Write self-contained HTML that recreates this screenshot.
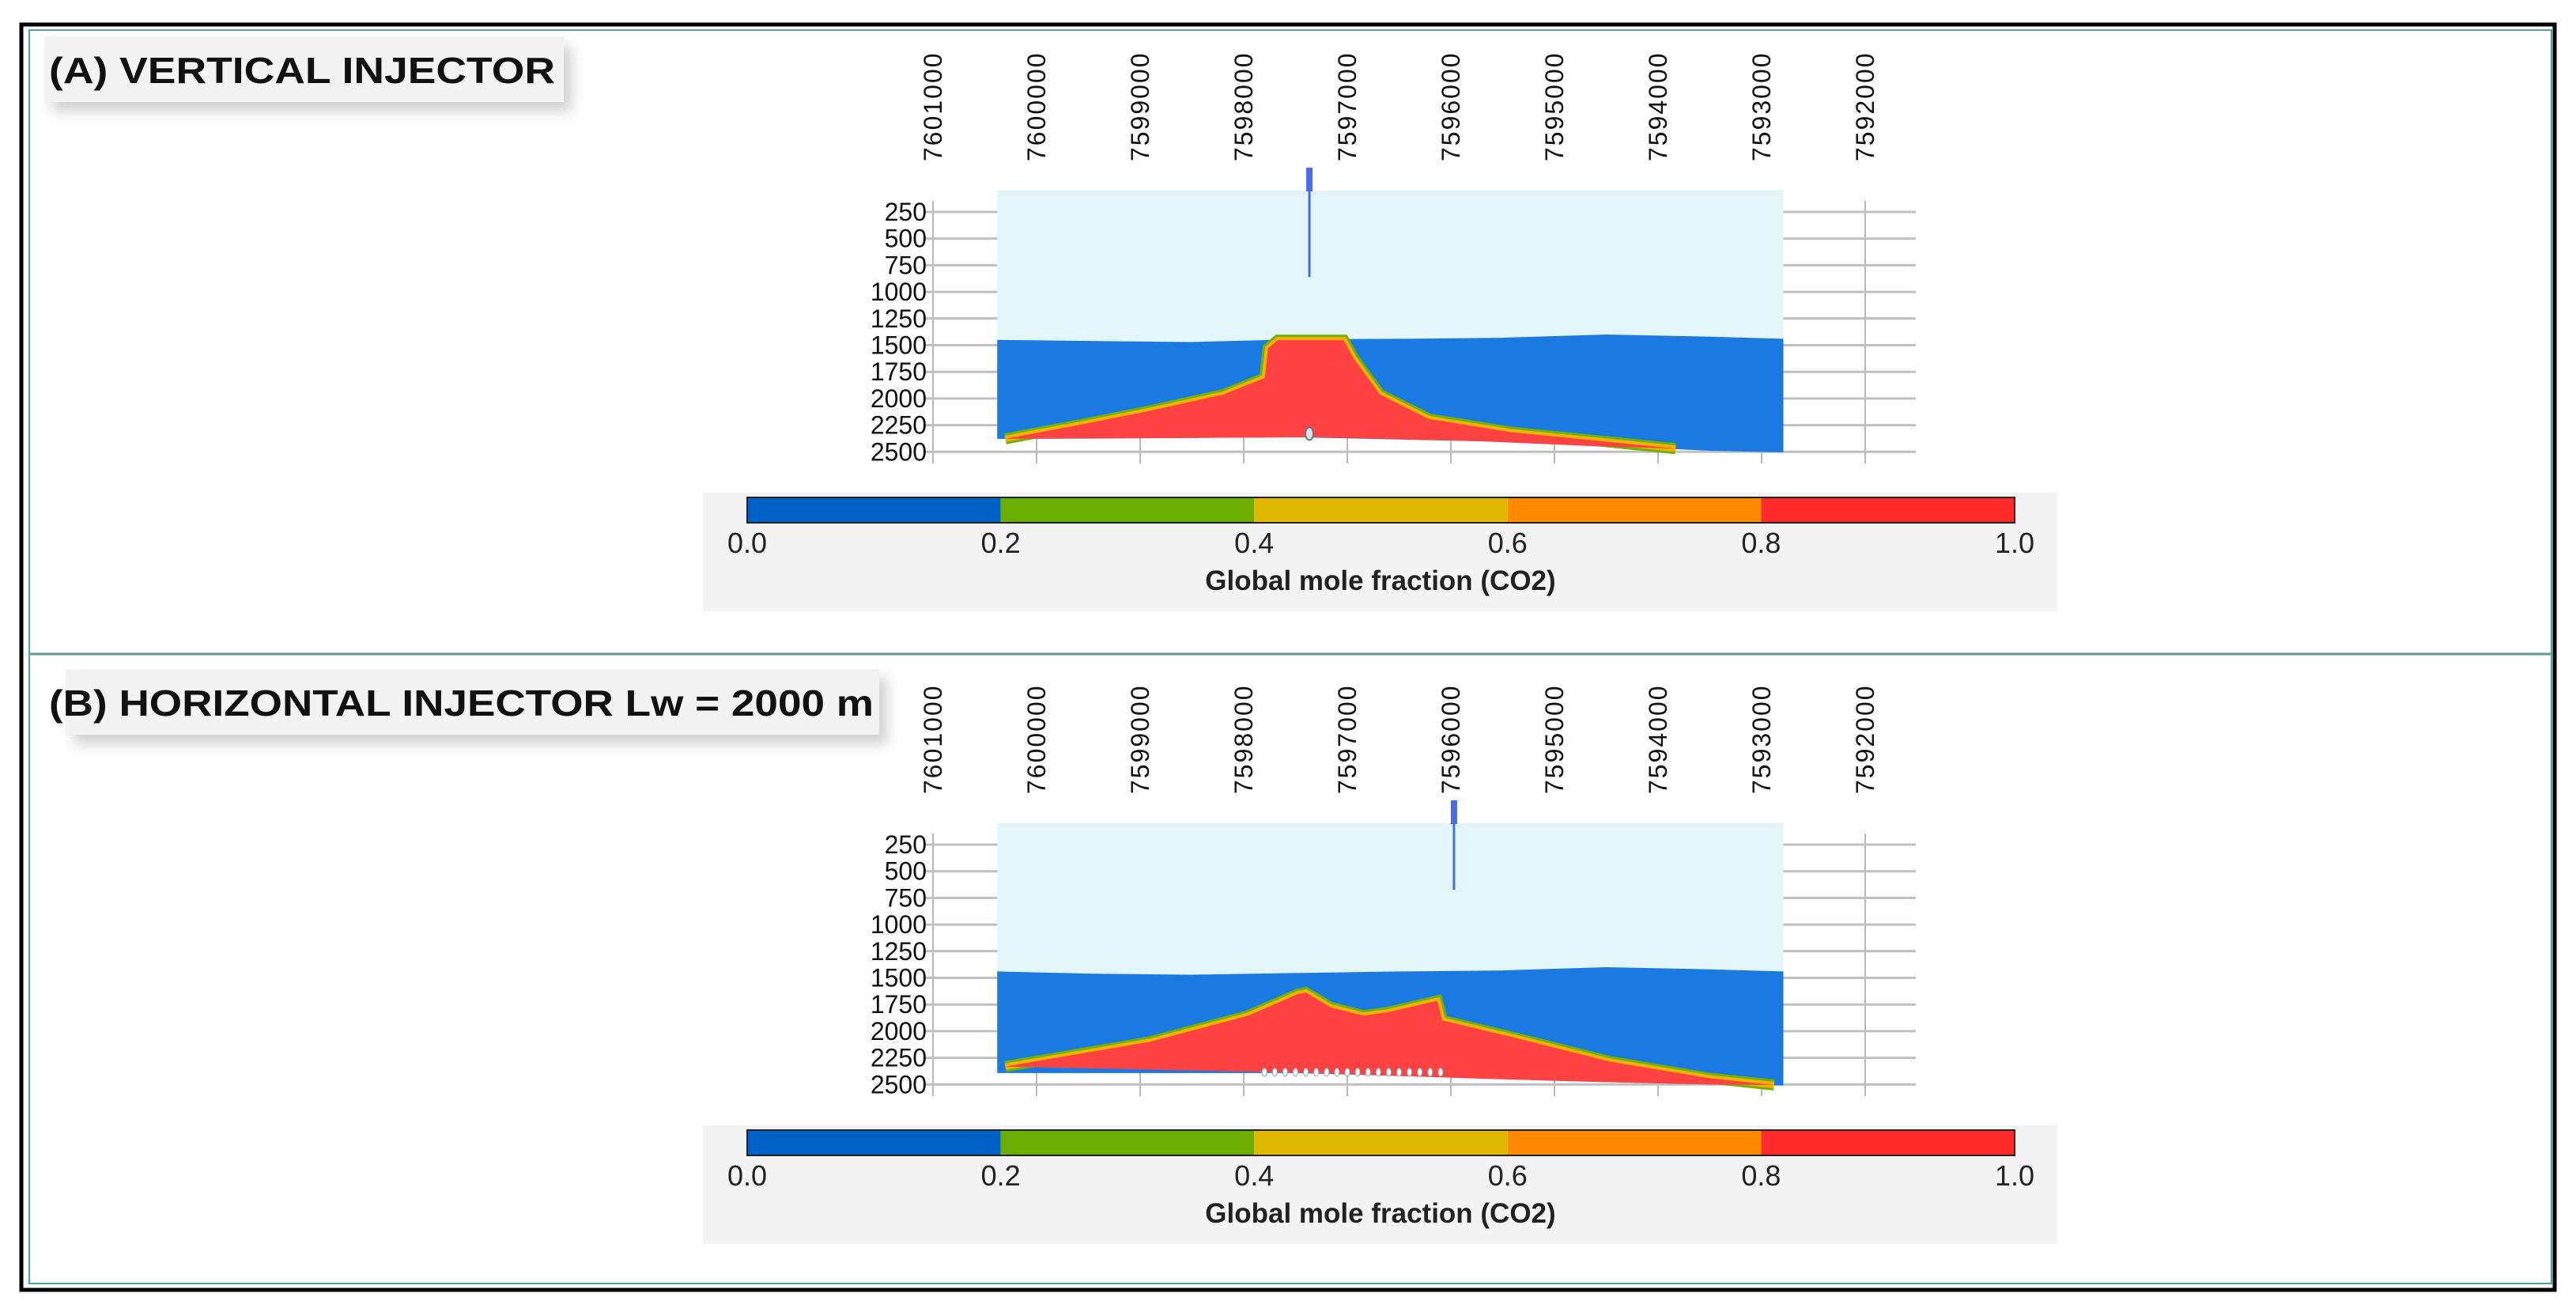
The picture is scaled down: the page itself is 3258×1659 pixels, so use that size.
<!DOCTYPE html>
<html><head><meta charset="utf-8"><style>
html,body{margin:0;padding:0;background:#fff;width:3258px;height:1659px;overflow:hidden}
svg{display:block}
text{font-family:"Liberation Sans",sans-serif}
</style></head><body>
<svg id="root" width="3258" height="1659" viewBox="0 0 3258 1659" xmlns="http://www.w3.org/2000/svg">
<defs><filter id="sh" x="-10%" y="-30%" width="130%" height="180%"><feDropShadow dx="10" dy="12" stdDeviation="8" flood-color="#000" flood-opacity="0.18"/></filter></defs>
<rect x="27" y="31" width="3204" height="1600" fill="none" stroke="#000" stroke-width="5"/>
<rect x="37" y="38" width="3190" height="1585" fill="none" stroke="#4aa8a0" stroke-width="2"/>
<line x1="37" y1="827" x2="3227" y2="827" stroke="#5a9a98" stroke-width="3"/>
<g id="panelA"></g>
<g id="panelB"></g>
</svg>
<script>
const NS="http://www.w3.org/2000/svg";
const eastTicks=[7601000,7600000,7599000,7598000,7597000,7596000,7595000,7594000,7593000,7592000];
const depthTicks=[250,500,750,1000,1250,1500,1750,2000,2250,2500];
const cbTicks=["0.0","0.2","0.4","0.6","0.8","1.0"];
const cbColors=["#0062c8","#6aaf00","#e0b800","#ff8a00","#ff2a2a"];
const modelEast=[7600380,7592790];
const topDepth=[50,50];
const capEastA=[7600380,7599500,7598500,7597500,7596500,7595500,7594500,7593500,7592790];
const capDepthA=[1450,1460,1470,1445,1440,1430,1400,1420,1440];
const baseDepthA=[2378,2376,2370,2363,2385,2405,2445,2490,2505];
const capDepthB=[1440,1460,1470,1455,1440,1430,1400,1420,1440];
const baseDepthB=[2393,2393,2393,2393,2420,2450,2478,2500,2510];
const plumeAEast=[7600302,7599541,7598906,7598193,7597796,7597765,7597670,7597035,7596940,7596686,7596210,7595417,7594624,7593831,7594624,7595734,7597320,7598500];
const plumeADepth=[2378,2239,2116,1962,1807,1530,1453,1453,1622,1962,2193,2316,2393,2470,2447,2400,2363,2370];
const plumeBEast=[7600302,7598906,7597955,7597479,7597400,7597162,7596845,7596607,7596131,7596083,7595417,7594466,7593514,7592880,7593500,7594500,7595734,7597320];
const plumeBDepth=[2332,2100,1854,1653,1638,1777,1854,1823,1715,1900,2054,2285,2440,2505,2500,2478,2445,2393];
const wellAEast=7597366, wellBEast=7595970;
const hwellEast=[7597800,7596050];

function el(p,tag,attrs,name,txt){const e=document.createElementNS(NS,tag);for(const k in attrs)e.setAttribute(k,attrs[k]);


if(txt!==undefined)e.textContent=txt;p.appendChild(e);return e;}

function panel(g,oy,title,tb,cap,base,pE,pD,wellE,horiz){
  const X=e=>1180+(7601000-e)*0.131;
  const Y=d=>oy+268+(d-250)*0.1348;
  el(g,'rect',{x:tb[0],y:oy+46,width:tb[1],height:83,fill:'#f3f3f3',filter:'url(#sh)'},'title-box');
  el(g,'text',{x:tb[2],y:oy+105,'font-size':46,'font-weight':'bold',fill:'#111',textLength:tb[3],lengthAdjust:'spacingAndGlyphs'},'panel-title',title);
  eastTicks.forEach(t=>{el(g,'line',{x1:X(t),y1:oy+254,x2:X(t),y2:oy+586,stroke:'#b8b8b8','stroke-width':2},'x-gridline');
    el(g,'text',{transform:`translate(${X(t)+11},${oy+204}) rotate(-90)`,'font-size':32,'letter-spacing':2,fill:'#111'},'x-tick-label',String(t));});
  depthTicks.forEach(d=>{el(g,'line',{x1:1170,y1:Y(d),x2:2423,y2:Y(d),stroke:'#c0c0c0','stroke-width':3},'y-gridline');
    el(g,'text',{x:1172,y:Y(d)+11,'font-size':32,'text-anchor':'end',fill:'#111'},'y-tick-label',String(d));});
  const x0=X(modelEast[0]),x1=X(modelEast[1]);
  el(g,'rect',{x:x0,y:Y(topDepth[0]),width:x1-x0,height:Y(1500)-Y(topDepth[0]),fill:'#e3f6fc'},'overburden');
  let pts=capEastA.map((e,i)=>X(e)+','+Y(cap[i])).join(' ')+' '+capEastA.slice().reverse().map((e,i)=>X(e)+','+Y(base[base.length-1-i])).join(' ');
  el(g,'polygon',{points:pts,fill:'#1a7ae2'},'reservoir');
  const edge=pE.slice(0,14).map((e,i)=>X(e)+','+Y(pD[i])).join(' ');
  el(g,'polyline',{points:edge,fill:'none',stroke:'#6cb400','stroke-width':14,'stroke-linejoin':'miter'},'plume-fringe-green');
  el(g,'polyline',{points:edge,fill:'none',stroke:'#f5b000','stroke-width':8},'plume-fringe-yellow');
  el(g,'polygon',{points:pE.map((e,i)=>X(e)+','+Y(pD[i])).join(' '),fill:'#fe4242'},'co2-plume');
  const wx=X(wellE);
  el(g,'rect',{x:wx-4,y:oy+212,width:8,height:30,fill:'#4a6ae8'},'well-head');
  el(g,'line',{x1:wx,y1:oy+242,x2:wx,y2:oy+(horiz?325:350),stroke:'#4a6ae8','stroke-width':3},'vertical-well');
  if(horiz){for(let e=hwellEast[0];e>=hwellEast[1];e-=100){el(g,'ellipse',{cx:X(e),cy:Y(2385),rx:3,ry:5,fill:'#fff',stroke:'#8ab','stroke-width':1},'horizontal-well-perforation');}}
  else el(g,'ellipse',{cx:wx,cy:Y(2330),rx:5,ry:8,fill:'#dde',stroke:'#678','stroke-width':2},'well-bottom');
  el(g,'rect',{x:889,y:oy+623,width:1713,height:150,fill:'#f4f4f4'},'colorbar-panel');
  const cw=1603/5;
  cbColors.forEach((c,i)=>el(g,'rect',{x:945+i*cw,y:oy+629,width:cw,height:32,fill:c},'colorbar-segment'));
  el(g,'rect',{x:945,y:oy+629,width:1603,height:32,fill:'none',stroke:'#222','stroke-width':2},'colorbar-outline');
  cbTicks.forEach((t,i)=>el(g,'text',{x:945+i*cw,y:oy+699,'font-size':36,'text-anchor':'middle',fill:'#222'},'colorbar-tick-label',t));
  el(g,'text',{x:1746,y:oy+746,'font-size':35,'font-weight':'bold','text-anchor':'middle',fill:'#222'},'colorbar-title','Global mole fraction (CO2)');
}
panel(document.getElementById('panelA'),0,'(A) VERTICAL INJECTOR',[56,657,62,640],capDepthA,baseDepthA,plumeAEast,plumeADepth,wellAEast,false);
panel(document.getElementById('panelB'),800,'(B) HORIZONTAL INJECTOR Lw = 2000 m',[83,1029,62,1043],capDepthB,baseDepthB,plumeBEast,plumeBDepth,wellBEast,true);
</script>
</body></html>
